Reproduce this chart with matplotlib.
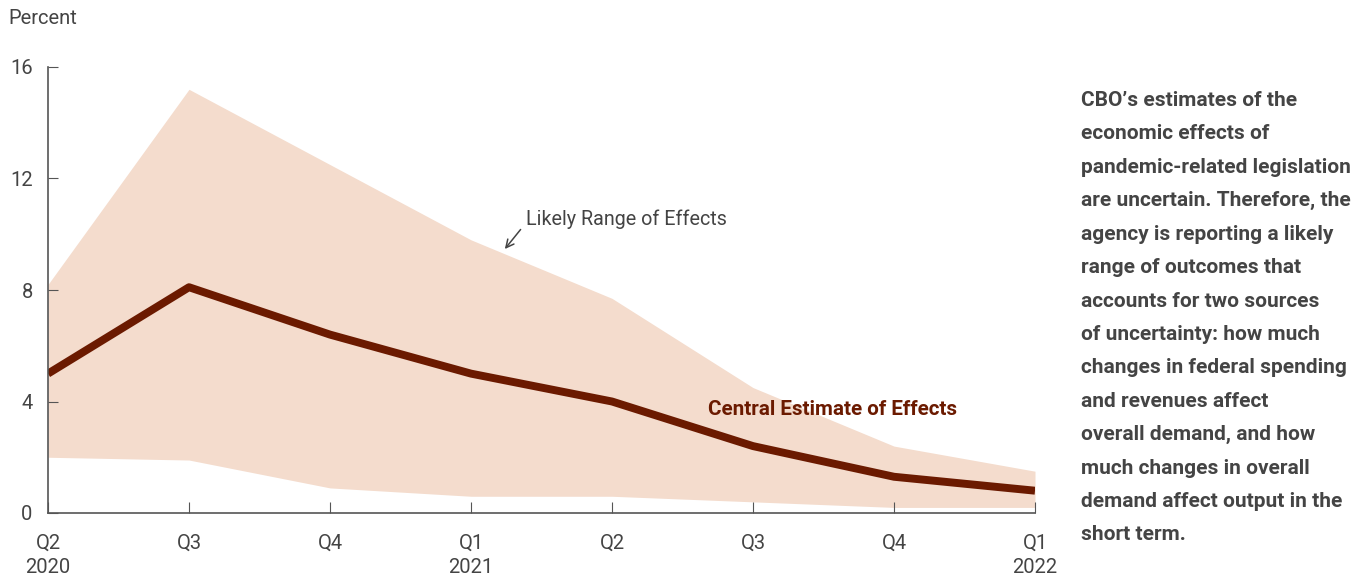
import numpy as np
import matplotlib
matplotlib.use("Agg")
import matplotlib.pyplot as plt

plt.rcParams['font.family'] = ['Roboto', 'DejaVu Sans']

quarters = ["Q2\n2020", "Q3", "Q4", "Q1\n2021", "Q2", "Q3", "Q4", "Q1\n2022"]
central = [5.0, 8.1, 6.4, 5.0, 4.0, 2.4, 1.3, 0.8]
upper = [8.2, 15.2, 12.5, 9.8, 7.7, 4.5, 2.4, 1.5]
lower = [2.0, 1.9, 0.9, 0.6, 0.6, 0.4, 0.2, 0.2]

note = ("CBO\u2019s estimates of the\neconomic effects of\npandemic-related legislation\n"
        "are uncertain. Therefore, the\nagency is reporting a likely\nrange of outcomes that\n"
        "accounts for two sources\nof uncertainty: how much\nchanges in federal spending\n"
        "and revenues affect\noverall demand, and how\nmuch changes in overall\n"
        "demand affect output in the\nshort term.")

fill_col = '#f4dccd'
line_col = '#6b1a00'
grey = '#444444'

x = np.arange(len(quarters))

fig = plt.figure(figsize=(13.62, 5.78), dpi=100)
ax = fig.add_axes([48/1362, 65/578, (1035-48)/1362, 446/578])

ax.fill_between(x, lower, upper, color=fill_col, linewidth=0)
ax.plot(x, central, color=line_col, linewidth=5.7, solid_capstyle='butt')

ax.set_xlim(0, 7)
ax.set_ylim(0, 16)
ax.set_yticks([0, 4, 8, 12, 16])
ax.set_xticks(x)
ax.set_xticklabels(quarters, fontsize=14.5, color=grey, linespacing=1.35)
ax.tick_params(axis='y', direction='in', length=7, labelsize=14.5, labelcolor=grey,
               color='#555555', pad=11)
ax.tick_params(axis='x', direction='in', length=8, color='#555555', pad=15)
for s in ['top', 'right']:
    ax.spines[s].set_visible(False)
for s in ['left', 'bottom']:
    ax.spines[s].set_color('#555555')
    ax.spines[s].set_linewidth(1.2)

fig.text(8/1362, 1 - 18/578, "Percent", fontsize=14.5, color=grey, va='center', ha='left')

ax.annotate("Likely Range of Effects", xy=(3.24, 9.47), xytext=(3.39, 10.55),
            fontsize=14.2, color=grey, va='center', ha='left',
            arrowprops=dict(arrowstyle='->', color=grey, lw=1.1, shrinkA=3, shrinkB=0,
                            relpos=(0, 0.3)))
ax.text(4.68, 3.7, "Central Estimate of Effects", fontsize=14.9, fontweight='bold',
        color=line_col, va='center', ha='left')

fig.text(1081/1362, 1 - 91/578, note, fontsize=15, fontweight='bold', color=grey,
         va='top', ha='left', linespacing=1.96)

fig.savefig("out.png", dpi=100)
